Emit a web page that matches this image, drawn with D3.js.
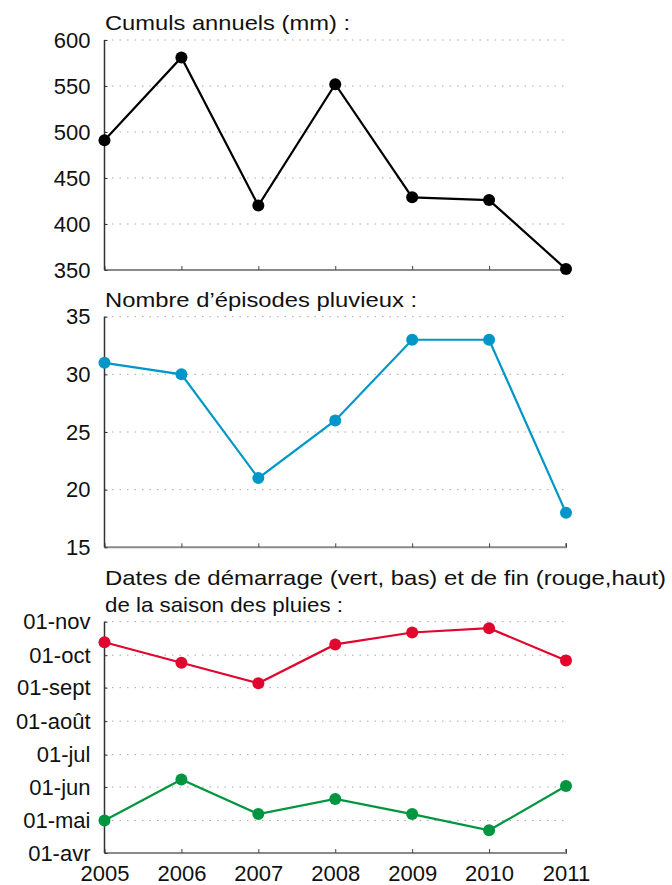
<!DOCTYPE html>
<html>
<head>
<meta charset="utf-8">
<script src="https://cdn.jsdelivr.net/npm/d3@7"></script>
<style>
  html, body { margin: 0; padding: 0; background: #fff; }
  svg text { font-family: "Liberation Sans", Arial, sans-serif; fill: #111; }
</style>
</head>
<body>
<svg id="chart" width="672" height="885"></svg>
<script>
// Three stacked panels sharing the same year axis.

const years = [2005, 2006, 2007, 2008, 2009, 2010, 2011];
const cumuls = [491, 581, 420, 552, 429, 426, 351];
const episodes = [31, 30, 21, 26, 33, 33, 18];
// dates as month-day (début = vert, fin = rouge)
const debutDates = ["05-01", "06-08", "05-07", "05-21", "05-07", "04-22", "06-02"];
const finDates = ["10-13", "09-24", "09-05", "10-11", "10-22", "10-26", "09-26"];
const cumulTicks = [350, 400, 450, 500, 550, 600];
const episodeTicks = [15, 20, 25, 30, 35];
const monthTicks = ["04-01", "05-01", "06-01", "07-01", "08-01", "09-01", "10-01", "11-01"];
const monthLabels = ["01-avr", "01-mai", "01-jun", "01-jul", "01-août", "01-sept", "01-oct", "01-nov"];

const parseMD = md => d3.timeParse("%Y-%m-%d")("2001-" + md);

const svg = d3.select("#chart");
const x = d3.scaleLinear().domain([2005, 2011]).range([104.5, 566]);

function drawPanel({ y, ticks, tickFormat, titles, series, showYears }) {
  const [yBottom, yTop] = y.range();
  const g = svg.append("g");

  // dotted gridlines
  g.selectAll(".grid")
    .data(ticks.slice(1))
    .join("line")
    .attr("x1", x.range()[0])
    .attr("x2", x.range()[1])
    .attr("y1", d => y(d))
    .attr("y2", d => y(d))
    .attr("stroke", "#a8a8a8")
    .attr("stroke-width", 1)
    .attr("stroke-dasharray", "1.5 6");

  // bottom axis
  const xAxis = d3.axisBottom(x).tickValues(years).tickSize(-4).tickFormat(showYears ? d3.format("d") : "");
  const gx = g.append("g").attr("transform", `translate(0,${yBottom})`).call(xAxis);
  gx.select(".domain").attr("d", `M${x.range()[0]},0H${x.range()[1]}V-4`).attr("stroke", "#8a8a8a").attr("stroke-width", 2);
  gx.selectAll(".tick line").attr("stroke", "#444");
  gx.selectAll(".tick text")
    .attr("font-size", 22)
    .attr("dy", null)
    .attr("y", 28)
    .attr("fill", "#111")
    .style("font-family", "'Liberation Sans', Arial, sans-serif");

  // left axis
  const yAxis = d3.axisLeft(y).tickValues(ticks).tickSize(-3).tickPadding(14).tickFormat(tickFormat);
  const gy = g.append("g").attr("transform", `translate(${x.range()[0]},0)`).call(yAxis);
  gy.select(".domain").attr("d", `M0,${yTop}V${yBottom}`).attr("stroke", "#333").attr("stroke-width", 1.5);
  gy.selectAll(".tick line").attr("stroke", "#333");
  gy.selectAll(".tick text")
    .attr("font-size", 22)
    .attr("fill", "#111")
    .style("font-family", "'Liberation Sans', Arial, sans-serif");

  // titles
  titles.forEach(t => {
    g.append("text")
      .attr("x", 105)
      .attr("y", t.y)
      .attr("font-size", 21)
      .attr("textLength", t.w)
      .attr("lengthAdjust", "spacingAndGlyphs")
      .text(t.text);
  });

  series.forEach(s => {
    const pts = years.map((yr, i) => ({ yr, v: s.values[i] }));
    g.append("path")
      .datum(pts)
      .attr("fill", "none")
      .attr("stroke", s.color)
      .attr("stroke-width", 2.2)
      .attr("d", d3.line().x(d => x(d.yr)).y(d => y(d.v)));
    g.selectAll(null)
      .data(pts)
      .join("circle")
      .attr("cx", d => x(d.yr))
      .attr("cy", d => y(d.v))
      .attr("r", 6)
      .attr("fill", s.color);
  });
}

drawPanel({
  y: d3.scaleLinear().domain([350, 600]).range([270, 40]),
  ticks: cumulTicks,
  tickFormat: d3.format("d"),
  titles: [{ text: "Cumuls annuels (mm) :", y: 30, w: 245 }],
  series: [{ values: cumuls, color: "#000000" }],
  showYears: false
});

drawPanel({
  y: d3.scaleLinear().domain([15, 35]).range([547.3, 316.7]),
  ticks: episodeTicks,
  tickFormat: d3.format("d"),
  titles: [{ text: "Nombre d\u2019épisodes pluvieux :", y: 307, w: 312 }],
  series: [{ values: episodes, color: "#0096c8" }],
  showYears: false
});

const monthDates = monthTicks.map(parseMD);
drawPanel({
  y: d3.scaleTime().domain([monthDates[0], monthDates[monthDates.length - 1]]).range([853, 621.7]),
  ticks: monthDates,
  tickFormat: (d, i) => monthLabels[i],
  titles: [
    { text: "Dates de démarrage (vert, bas) et de fin (rouge,haut)", y: 585, w: 561 },
    { text: "de la saison des pluies :", y: 612, w: 238 }
  ],
  series: [
    { values: finDates.map(parseMD), color: "#e0062e" },
    { values: debutDates.map(parseMD), color: "#009640" }
  ],
  showYears: true
});
</script>
</body>
</html>
